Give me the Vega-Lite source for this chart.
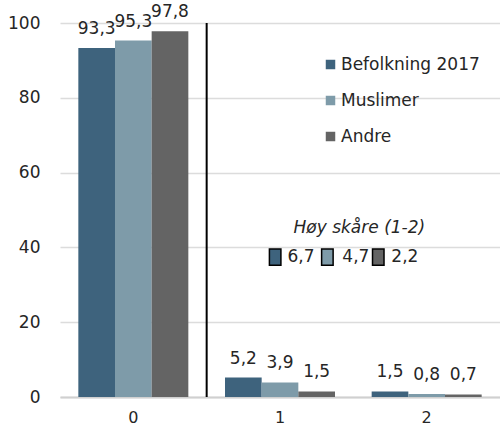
{
  "$schema": "https://vega.github.io/schema/vega-lite/v6.json",
  "width": 440,
  "height": 374,
  "autosize": "none",
  "padding": {"left": 60, "top": 23, "right": 0, "bottom": 29},
  "config": {
    "view": {"stroke": null},
    "font": "DejaVu Sans",
    "text": {"font": "DejaVu Sans", "fontSize": 17, "color": "#262626"}
  },
  "datasets": {
    "bars": [
      {"cat": "0", "series": "Befolkning 2017", "value": 93.3, "label": "93,3"},
      {"cat": "0", "series": "Muslimer", "value": 95.3, "label": "95,3"},
      {"cat": "0", "series": "Andre", "value": 97.8, "label": "97,8"},
      {"cat": "1", "series": "Befolkning 2017", "value": 5.2, "label": "5,2"},
      {"cat": "1", "series": "Muslimer", "value": 3.9, "label": "3,9"},
      {"cat": "1", "series": "Andre", "value": 1.5, "label": "1,5"},
      {"cat": "2", "series": "Befolkning 2017", "value": 1.5, "label": "1,5"},
      {"cat": "2", "series": "Muslimer", "value": 0.8, "label": "0,8"},
      {"cat": "2", "series": "Andre", "value": 0.7, "label": "0,7"}
    ],
    "high": [
      {"series": "Befolkning 2017", "hs": 6.7, "label": "6,7", "bx": 1.467, "tx": 1.551, "ay": 37.4},
      {"series": "Muslimer", "hs": 4.7, "label": "4,7", "bx": 1.823, "tx": 1.925, "ay": 37.4},
      {"series": "Andre", "hs": 2.2, "label": "2,2", "bx": 2.17, "tx": 2.259, "ay": 37.4}
    ],
    "note": [{"title": "Høy skåre  (1-2)", "ax": 2.041, "ay": 45.2, "divider": 1, "y0": 0, "y1": 100}]
  },
  "resolve": {"scale": {"x": "independent"}, "axis": {"x": "independent"}},
  "layer": [
    {
      "data": {"name": "bars"},
      "mark": {"type": "bar"},
      "encoding": {
        "x": {"field": "cat", "type": "nominal",
          "scale": {"paddingInner": 0.25, "paddingOuter": 0.125},
          "axis": {"title": null, "labelAngle": 0, "labelFontSize": 16, "labelColor": "#262626", "ticks": false, "labelPadding": 12, "domainColor": "#d0d0d0", "domainWidth": 2, "labelFont": "DejaVu Sans"}},
        "xOffset": {"field": "series", "type": "nominal", "sort": ["Befolkning 2017", "Muslimer", "Andre"]},
        "y": {"field": "value", "type": "quantitative",
          "scale": {"domain": [0, 100]},
          "axis": {"title": null, "values": [0, 20, 40, 60, 80, 100], "domain": false, "ticks": false, "labelFontSize": 17, "labelColor": "#262626", "labelPadding": 20, "gridColor": "#dcdcdc", "gridWidth": 1.5, "labelFont": "DejaVu Sans"}},
        "color": {"field": "series", "type": "nominal",
          "scale": {"domain": ["Befolkning 2017", "Muslimer", "Andre"], "range": ["#3e637d", "#7e9ba9", "#646464"]},
          "legend": {"title": null, "orient": "none", "legendX": 262, "legendY": 33, "symbolType": "square", "symbolSize": 90, "labelFontSize": 17, "labelFont": "DejaVu Sans", "labelColor": "#262626", "rowPadding": 18, "labelOffset": 2, "symbolStrokeWidth": 0}}
      }
    },
    {
      "data": {"name": "bars"},
      "mark": {"type": "text", "baseline": "middle", "dy": -19},
      "encoding": {
        "x": {"field": "cat", "type": "nominal", "scale": {"paddingInner": 0.25, "paddingOuter": 0.125}, "axis": null},
        "xOffset": {"field": "series", "type": "nominal", "sort": ["Befolkning 2017", "Muslimer", "Andre"]},
        "y": {"field": "value", "type": "quantitative"},
        "text": {"field": "label"}
      }
    },
    {
      "data": {"name": "note"},
      "layer": [
        {
          "mark": {"type": "rule", "color": "#000000", "strokeWidth": 2},
          "encoding": {
            "x": {"field": "divider", "type": "quantitative", "scale": {"domain": [0, 3]}, "axis": null},
            "y": {"field": "y0", "type": "quantitative"},
            "y2": {"field": "y1"}
          }
        },
        {
          "mark": {"type": "text", "fontStyle": "italic", "align": "center", "baseline": "middle"},
          "encoding": {
            "x": {"field": "ax", "type": "quantitative", "scale": {"domain": [0, 3]}, "axis": null},
            "y": {"field": "ay", "type": "quantitative"},
            "text": {"field": "title"}
          }
        }
      ]
    },
    {
      "data": {"name": "high"},
      "layer": [
        {
          "mark": {"type": "point", "filled": true, "opacity": 1, "shape": "M-0.7,-1H0.7V1H-0.7Z", "size": 270, "stroke": "#000000", "strokeWidth": 1.5},
          "encoding": {
            "x": {"field": "bx", "type": "quantitative", "scale": {"domain": [0, 3]}, "axis": null},
            "y": {"field": "ay", "type": "quantitative"},
            "color": {"field": "series", "type": "nominal"}
          }
        },
        {
          "mark": {"type": "text", "align": "left", "baseline": "middle"},
          "encoding": {
            "x": {"field": "tx", "type": "quantitative", "scale": {"domain": [0, 3]}, "axis": null},
            "y": {"field": "ay", "type": "quantitative"},
            "text": {"field": "label"}
          }
        }
      ]
    }
  ]
}
